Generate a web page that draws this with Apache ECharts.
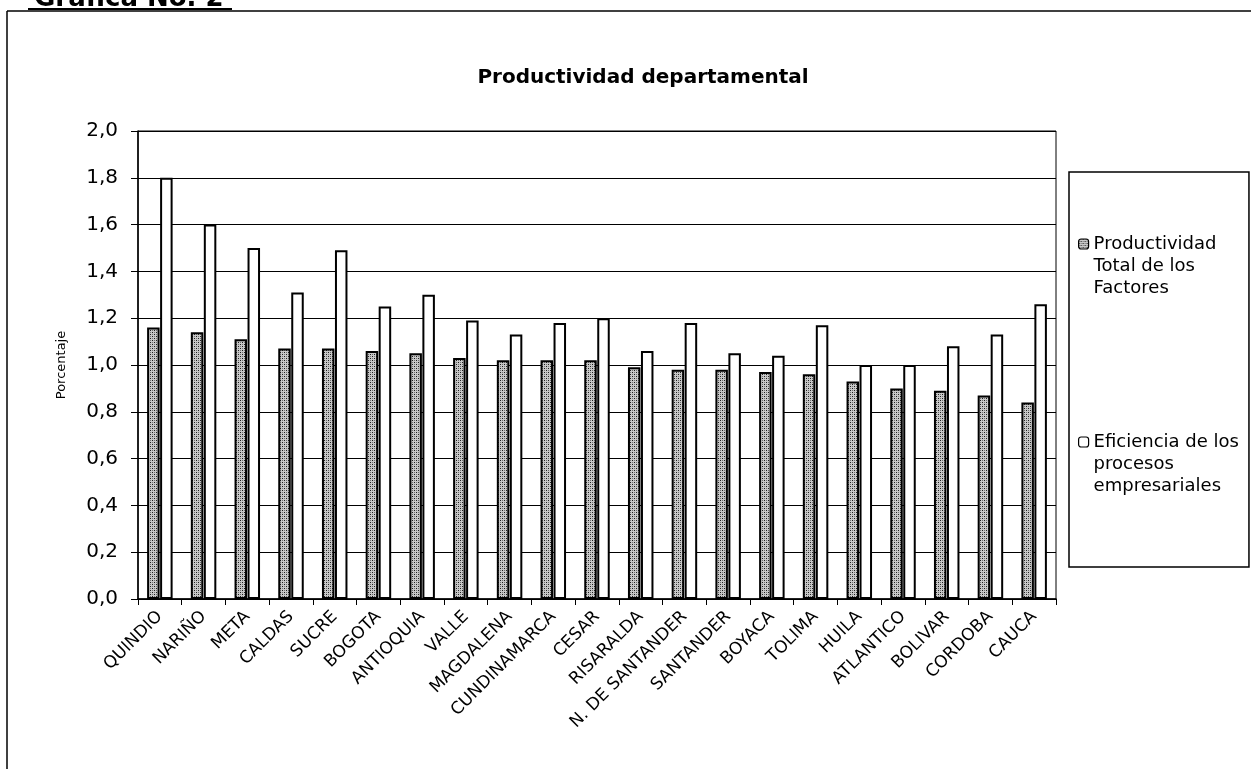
<!DOCTYPE html>
<html>
<head>
<meta charset="utf-8">
<script src="https://cdn.jsdelivr.net/npm/echarts@6/dist/echarts.min.js"></script>
<style>
  html, body { margin: 0; padding: 0; background: #fff; }
  #chart { width: 1251px; height: 769px; }
</style>
</head>
<body>
<div id="chart"></div>
<script>
// Departments, ordered by total factor productivity
const departamentos = [
  'QUINDIO', 'NARIÑO', 'META', 'CALDAS', 'SUCRE', 'BOGOTA', 'ANTIOQUIA',
  'VALLE', 'MAGDALENA', 'CUNDINAMARCA', 'CESAR', 'RISARALDA',
  'N. DE SANTANDER', 'SANTANDER', 'BOYACA', 'TOLIMA', 'HUILA',
  'ATLANTICO', 'BOLIVAR', 'CORDOBA', 'CAUCA'
];

// Productividad Total de los Factores
const ptf = [
  1.16, 1.14, 1.11, 1.07, 1.07, 1.06, 1.05,
  1.03, 1.02, 1.02, 1.02, 0.99,
  0.98, 0.98, 0.97, 0.96, 0.93,
  0.90, 0.89, 0.87, 0.84
];

// Eficiencia de los procesos empresariales
const eficiencia = [
  1.80, 1.60, 1.50, 1.31, 1.49, 1.25, 1.30,
  1.19, 1.13, 1.18, 1.20, 1.06,
  1.18, 1.05, 1.04, 1.17, 1.00,
  1.00, 1.08, 1.13, 1.26
];

const serieNombres = [
  'Productividad Total de los Factores',
  'Eficiencia de los procesos empresariales'
];
// Legend captions; the two leading blank lines keep the swatch level with the first line
const leyendaTexto = {
  'Productividad Total de los Factores': '\n\nProductividad\nTotal de los\nFactores',
  'Eficiencia de los procesos empresariales': '\n\nEficiencia de los\nprocesos\nempresariales'
};

const FONT = 'DejaVu Sans, Arial, sans-serif';

// Stippled fill for the first series
function stipple() {
  const c = document.createElement('canvas');
  c.width = 4; c.height = 4;
  const g = c.getContext('2d');
  g.fillStyle = '#c8c8c8';
  g.fillRect(0, 0, 4, 4);
  g.fillStyle = '#1e1e1e';
  g.fillRect(0, 0, 1, 1);
  g.fillRect(2, 2, 1, 1);
  g.fillStyle = '#707070';
  g.fillRect(2, 0, 1, 1);
  g.fillRect(0, 2, 1, 1);
  return c;
}

const chart = echarts.init(document.getElementById('chart'), null, { renderer: 'canvas' });

chart.setOption({
  animation: false,
  backgroundColor: '#fff',
  title: {
    text: 'Productividad departamental',
    left: 638,
    top: 63,
    textAlign: 'center',
    textStyle: { fontFamily: FONT, fontSize: 20, fontWeight: 'bold', color: '#000' }
  },
  graphic: [
    // page frame
    { type: 'line', shape: { x1: 7, y1: 11, x2: 1251, y2: 11 }, style: { stroke: '#000', lineWidth: 1.5 } },
    { type: 'line', shape: { x1: 7, y1: 11, x2: 7, y2: 769 }, style: { stroke: '#000', lineWidth: 1.5 } },
    // figure caption, cut by the top edge
    { type: 'text', left: 34, top: -14,
      style: { text: 'Gráfica No. 2', fontFamily: FONT, fontSize: 26, fontWeight: 'bold', fill: '#000' } },
    { type: 'line', shape: { x1: 28, y1: 9, x2: 232, y2: 9 }, style: { stroke: '#000', lineWidth: 2 } }
  ],
  legend: {
    orient: 'vertical',
    left: 1069,
    top: 172,
    data: serieNombres,
    formatter: n => leyendaTexto[n],
    itemWidth: 10,
    itemHeight: 10,
    itemGap: 88,
    padding: [17, 10, 70, 9],
    borderColor: '#000',
    borderWidth: 1.5,
    backgroundColor: '#fff',
    selectedMode: false,
    itemStyle: { borderColor: '#000', borderWidth: 1.2 },
    textStyle: { fontFamily: FONT, fontSize: 18, lineHeight: 22, color: '#000' }
  },
  grid: { left: 138, right: 195, top: 131, bottom: 170, show: true, borderColor: '#000', borderWidth: 1 },
  xAxis: {
    type: 'category',
    data: departamentos,
    axisLine: { lineStyle: { color: '#000', width: 1.5 } },
    axisTick: { show: true, length: 6, lineStyle: { color: '#000', width: 1 } },
    axisLabel: {
      interval: 0, rotate: 45, margin: 15,
      fontFamily: FONT, fontSize: 17, color: '#000'
    }
  },
  yAxis: {
    type: 'value',
    min: 0, max: 2, interval: 0.2,
    name: 'Porcentaje',
    nameLocation: 'middle',
    nameGap: 70,
    nameRotate: 90,
    nameTextStyle: { fontFamily: FONT, fontSize: 13, color: '#000' },
    axisLine: { show: true, lineStyle: { color: '#000', width: 1.5 } },
    axisTick: { show: true, length: 7, lineStyle: { color: '#000', width: 1 } },
    splitLine: { lineStyle: { color: '#000', width: 1 } },
    axisLabel: {
      margin: 20, fontFamily: FONT, fontSize: 20, color: '#000',
      formatter: v => v.toFixed(1).replace('.', ',')
    }
  },
  series: [
    {
      name: serieNombres[0],
      type: 'bar',
      data: ptf,
      barWidth: 12.5,
      barGap: '4%',
      itemStyle: { color: { image: stipple(), repeat: 'repeat' }, borderColor: '#000', borderWidth: 2 }
    },
    {
      name: serieNombres[1],
      type: 'bar',
      data: eficiencia,
      barWidth: 12.5,
      itemStyle: { color: '#fff', borderColor: '#000', borderWidth: 2 }
    }
  ]
});
</script>
</body>
</html>
